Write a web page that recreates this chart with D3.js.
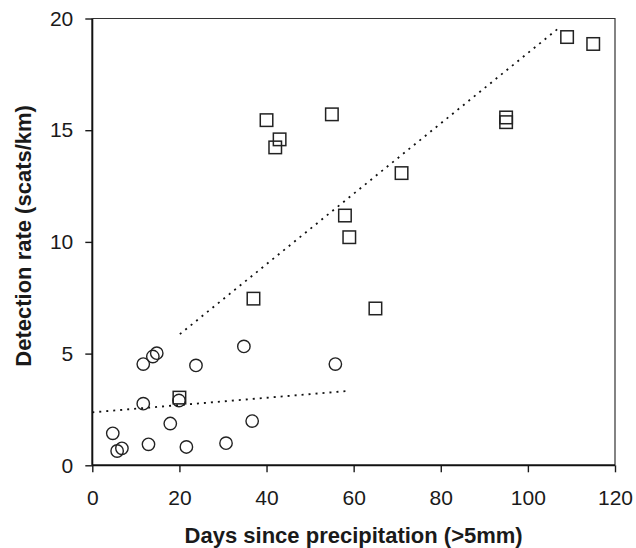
<!DOCTYPE html>
<html>
<head>
<meta charset="utf-8">
<script src="https://cdn.jsdelivr.net/npm/d3@7"></script>
<style>
  body { margin: 0; background: #fff; }
  text { font-family: "Liberation Sans", Arial, sans-serif; fill: #1a1a1a; }
</style>
</head>
<body>
<div id="chart-container"></div>
<script>
// squares series (days, detection rate)
const squareDays  = [40, 42, 43, 55, 109, 115, 95, 95, 71, 58, 59, 37, 65, 20];
const squareRates = [15.45, 14.23, 14.59, 15.71, 19.17, 18.86, 15.57, 15.36, 13.08, 11.18, 10.21, 7.46, 7.02, 3.03];

// circles series
const circleDays  = [11.7, 13.9, 14.8, 23.8, 34.8, 55.8, 11.7, 19.9, 4.7, 5.7, 6.8, 12.9, 17.9, 21.6, 30.7, 36.7];
const circleRates = [4.53, 4.87, 5.02, 4.47, 5.32, 4.53, 2.76, 2.90, 1.43, 0.64, 0.76, 0.94, 1.87, 0.82, 0.99, 1.98];

// fitted lines, endpoints in data units
const squareFit = [[20.1, 5.87], [107.4, 19.62]];
const circleFit = [[0, 2.37], [58.8, 3.33]];

const xTicks = [0, 20, 40, 60, 80, 100, 120];
const yTicks = [0, 5, 10, 15, 20];

const margin = { top: 18.5, right: 21, bottom: 82.7, left: 92.3 };
const width = 636 - margin.left - margin.right;
const height = 548 - margin.top - margin.bottom;

const svg = d3.select("#chart-container")
    .append("svg")
    .attr("width", width + margin.left + margin.right)
    .attr("height", height + margin.top + margin.bottom)
    .append("g")
    .attr("transform", `translate(${margin.left}, ${margin.top})`);

const x = d3.scaleLinear().domain([0, 120]).range([0, width]);
const y = d3.scaleLinear().domain([0, 20]).range([height, 0]);

// top and right frame
svg.append("path")
    .attr("d", `M0,0H${width}V${height}`)
    .attr("fill", "none")
    .attr("stroke", "#333")
    .attr("stroke-width", 1.2);

// x axis
const gx = svg.append("g")
    .attr("transform", `translate(0,${height})`)
    .call(d3.axisBottom(x).tickValues(xTicks).tickSize(7).tickPadding(18));
gx.select(".domain").remove();
gx.selectAll(".tick line").attr("stroke", "#1a1a1a").attr("stroke-width", 1.4);
gx.selectAll(".tick text").style("font-size", "21px");

// y axis
const gy = svg.append("g")
    .call(d3.axisLeft(y).tickValues(yTicks).tickSize(7).tickPadding(12));
gy.select(".domain").remove();
gy.selectAll(".tick line").attr("stroke", "#1a1a1a").attr("stroke-width", 1.4);
gy.selectAll(".tick text").style("font-size", "21px");

// thick axis lines
svg.append("line")
    .attr("x1", 0).attr("x2", width)
    .attr("y1", height).attr("y2", height)
    .attr("stroke", "#111").attr("stroke-width", 2);
svg.append("line")
    .attr("x1", 0).attr("x2", 0)
    .attr("y1", 0).attr("y2", height)
    .attr("stroke", "#111").attr("stroke-width", 2);

// fit lines
const line = d3.line().x(d => x(d[0])).y(d => y(d[1]));
[squareFit, circleFit].forEach(fit => {
    svg.append("path")
        .datum(fit)
        .attr("fill", "none")
        .attr("stroke", "#111")
        .attr("stroke-width", 1.8)
        .style("stroke-dasharray", "2, 5")
        .attr("d", line);
});

// circles
svg.selectAll(".circ")
    .data(d3.range(circleDays.length))
    .join("circle")
    .attr("class", "circ")
    .attr("cx", i => x(circleDays[i]))
    .attr("cy", i => y(circleRates[i]))
    .attr("r", 6.2)
    .attr("fill", "none")
    .attr("stroke", "#222")
    .attr("stroke-width", 1.4);

// squares
const sq = 12.5;
svg.selectAll(".sq")
    .data(d3.range(squareDays.length))
    .join("rect")
    .attr("class", "sq")
    .attr("x", i => x(squareDays[i]) - sq / 2)
    .attr("y", i => y(squareRates[i]) - sq / 2)
    .attr("width", sq)
    .attr("height", sq)
    .attr("fill", "none")
    .attr("stroke", "#222")
    .attr("stroke-width", 1.5);

// axis titles
svg.append("text")
    .attr("x", width / 2)
    .attr("y", height + 78)
    .style("text-anchor", "middle")
    .style("font-size", "22px")
    .style("font-weight", "bold")
    .text("Days since precipitation (>5mm)");

svg.append("text")
    .attr("transform", "rotate(-90)")
    .attr("x", -height / 2 + 6)
    .attr("y", 31 - margin.left)
    .style("text-anchor", "middle")
    .style("font-size", "22px")
    .style("font-weight", "bold")
    .text("Detection rate (scats/km)");
</script>
</body>
</html>
